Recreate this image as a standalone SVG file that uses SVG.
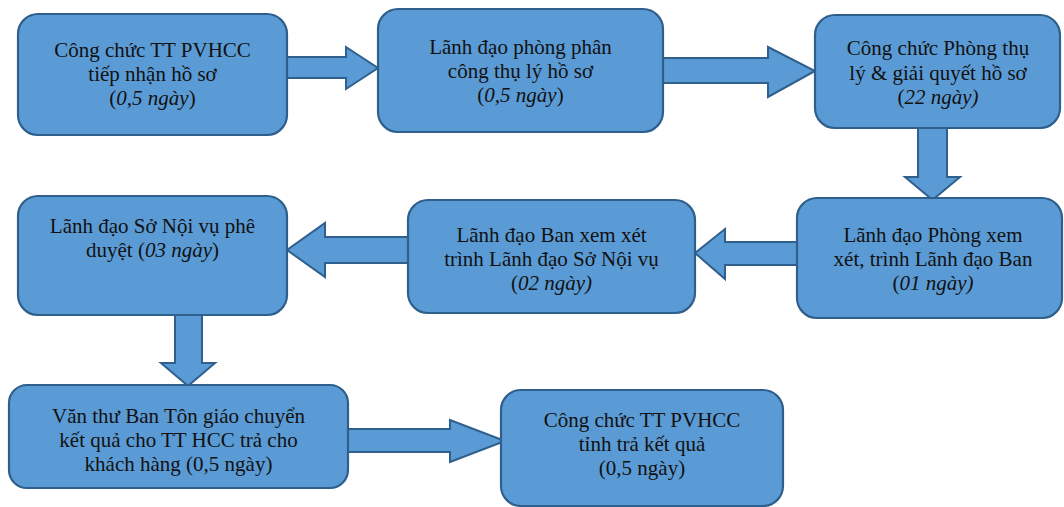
<svg xmlns="http://www.w3.org/2000/svg" width="1064" height="507" viewBox="0 0 1064 507">
<style>
.box{fill:#5b9bd5;stroke:#2f5f8c;stroke-width:2.2}
.arr{fill:#5b9bd5;stroke:#2f5f8c;stroke-width:2;stroke-linejoin:miter}
text{font-family:"Liberation Serif","Times New Roman",serif;font-size:21px;fill:#111;text-anchor:middle}
.i{font-style:italic}
</style>
<rect width="1064" height="507" fill="#ffffff"/>
<g id="connectors">
<polygon class="arr" points="287,57 346,57 346,47 378,68 346,89 346,78 287,78"/>
<polygon class="arr" points="663,58 768,58 768,47 815,71 768,97 768,83 663,83"/>
<polygon class="arr" points="918,128 947,128 947,177 960,177 932.5,200 905,177 918,177"/>
<polygon class="arr" points="797,242 725,242 725,229 695,253 725,279 725,265 797,265"/>
<polygon class="arr" points="408,237 325,237 325,223 287,250 325,277 325,263 408,263"/>
<polygon class="arr" points="175,315 202,315 202,363 215,363 188,386 161,363 175,363"/>
<polygon class="arr" points="348,429 450,429 450,420 505,441 450,462 450,452 348,452"/>
</g>
<g id="n1">
<rect class="box" x="18" y="14" width="269" height="121" rx="20"/>
<text x="152.5" y="57">Công chức TT PVHCC</text>
<text x="152.5" y="81">tiếp nhận hồ sơ</text>
<text x="152.5" y="105">(<tspan class="i">0,5 ngày</tspan>)</text>
</g>
<g id="n2">
<rect class="box" x="378" y="9" width="285" height="123" rx="20"/>
<text x="520.5" y="54">Lãnh đạo phòng phân</text>
<text x="520.5" y="78">công thụ lý hồ sơ</text>
<text x="520.5" y="102">(<tspan class="i">0,5 ngày</tspan>)</text>
</g>
<g id="n3">
<rect class="box" x="815" y="15" width="245" height="113" rx="20"/>
<text x="938" y="55">Công chức Phòng thụ</text>
<text x="938" y="80">lý &amp; giải quyết hồ sơ</text>
<text x="938" y="104">(<tspan class="i">22 ngày)</tspan></text>
</g>
<g id="n4">
<rect class="box" x="797" y="198" width="265" height="120" rx="20"/>
<text x="933" y="242">Lãnh đạo Phòng xem</text>
<text x="933" y="266">xét, trình Lãnh đạo Ban</text>
<text x="933" y="290">(<tspan class="i">01 ngày)</tspan></text>
</g>
<g id="n5">
<rect class="box" x="408" y="200" width="287" height="113" rx="20"/>
<text x="551.5" y="242">Lãnh đạo Ban xem xét</text>
<text x="551.5" y="266">trình Lãnh đạo Sở Nội vụ</text>
<text x="551.5" y="290">(<tspan class="i">02 ngày)</tspan></text>
</g>
<g id="n6">
<rect class="box" x="18" y="196" width="269" height="119" rx="20"/>
<text x="152.5" y="233">Lãnh đạo Sở Nội vụ phê</text>
<text x="152.5" y="257">duyệt (<tspan class="i">03 ngày</tspan>)</text>
</g>
<g id="n7">
<rect class="box" x="9" y="385" width="339" height="103" rx="18"/>
<text x="178.5" y="423">Văn thư Ban Tôn giáo chuyển</text>
<text x="178.5" y="447">kết quả cho TT HCC trả cho</text>
<text x="178.5" y="471">khách hàng (0,5 ngày)</text>
</g>
<g id="n8">
<rect class="box" x="501" y="390" width="282" height="116" rx="20"/>
<text x="642" y="427">Công chức TT PVHCC</text>
<text x="642" y="451">tỉnh trả kết quả</text>
<text x="642" y="475">(0,5 ngày)</text>
</g>
</svg>
